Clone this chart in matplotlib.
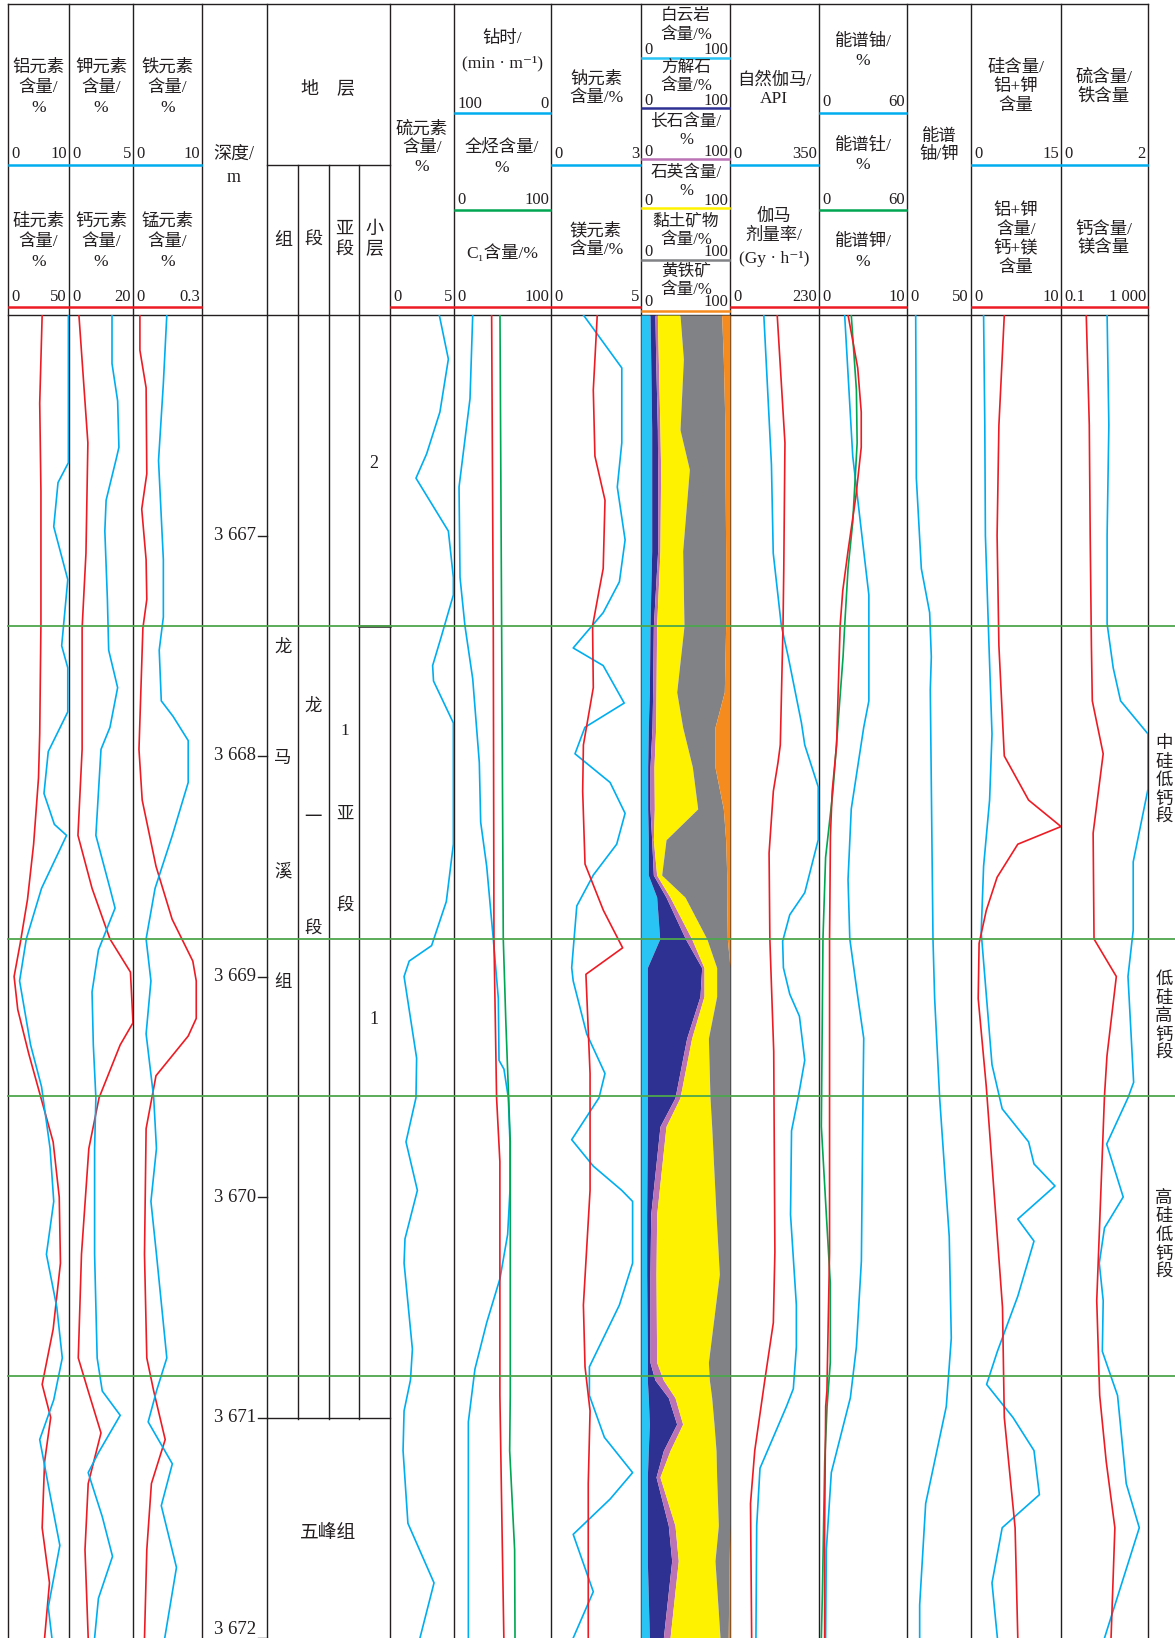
import numpy as np
import matplotlib
matplotlib.use('Agg')
import matplotlib.pyplot as plt

plt.rcParams['font.family'] = ['Liberation Serif', 'Noto Sans CJK SC', 'DejaVu Sans']

# ---------------- data (depth in m) ----------------
si_depth = [3666.0, 3666.4, 3666.8, 3667.4, 3667.9, 3668.1, 3668.4, 3668.65, 3668.85, 3669.0, 3669.15,
            3669.35, 3669.55, 3669.75, 3670.0, 3670.3, 3670.6, 3670.85, 3671.0, 3671.2, 3671.5, 3671.75, 3672.0]
si = [28, 26, 27, 27, 26, 25, 21, 16, 10, 5, 8, 17, 27, 37, 42, 43, 37, 28, 35, 30, 28, 34, 30]
al_depth = [3666.0, 3666.67, 3666.76, 3666.96, 3667.2, 3667.35, 3667.5, 3667.6, 3667.8, 3667.98, 3668.17,
            3668.31, 3668.36, 3668.6, 3668.83, 3669.02, 3669.31, 3669.5, 3669.78, 3670.02, 3670.26, 3670.5,
            3670.73, 3670.92, 3671.1, 3671.35, 3671.58, 3671.86, 3672.0]
al = [9.9, 9.9, 8.2, 7.5, 9.8, 9.3, 8.8, 9.8, 9.8, 6.6, 5.9, 7.6, 9.6, 5.5, 3.0, 1.9, 3.7, 5.5, 6.9, 7.5,
      6.3, 8.0, 8.9, 7.5, 5.2, 6.9, 8.5, 6.6, 7.2]

ca_depth = [3666.0, 3666.58, 3667.08, 3667.42, 3667.97, 3668.36, 3668.6, 3668.83, 3668.98, 3669.21, 3669.31,
            3669.55, 3669.78, 3670.26, 3670.73, 3670.88, 3671.07, 3671.3, 3671.6, 3672.0]
ca = [3.1, 5.9, 5.3, 4.1, 4.1, 2.8, 7.2, 12.8, 19.2, 20.0, 16.0, 9.4, 6.2, 3.9, 2.9, 6.0, 10.0, 6.0, 5.0, 6.0]
k_depth = [3666.0, 3666.22, 3666.39, 3666.6, 3666.65, 3666.84, 3666.98, 3667.29, 3667.52, 3667.69, 3667.87,
           3667.97, 3668.36, 3668.6, 3668.69, 3668.88, 3669.07, 3669.31, 3669.55, 3669.78, 3670.26, 3670.73,
           3670.88, 3670.99, 3671.16, 3671.25, 3671.45, 3671.63, 3671.82, 3672.0]
k = [3.36, 3.36, 3.8, 3.9, 3.7, 2.9, 2.8, 3.0, 3.1, 3.8, 3.2, 2.5, 2.1, 3.2, 3.6, 2.3, 1.8, 1.9, 2.1, 2.0,
     2.0, 2.2, 2.6, 4.0, 2.3, 1.5, 2.6, 3.4, 2.3, 2.0]

mn_depth = [3666.0, 3666.16, 3666.33, 3666.72, 3666.88, 3667.11, 3667.29, 3667.42, 3667.97, 3668.2, 3668.5,
            3668.74, 3668.93, 3669.02, 3669.19, 3669.27, 3669.45, 3669.69, 3670.26, 3670.73, 3670.88, 3671.1,
            3671.3, 3671.6, 3672.0]
mn = [0.030, 0.030, 0.057, 0.060, 0.038, 0.057, 0.060, 0.043, 0.026, 0.04, 0.10, 0.17, 0.26, 0.275, 0.275,
      0.24, 0.10, 0.057, 0.05, 0.06, 0.09, 0.14, 0.08, 0.06, 0.05]
fe_depth = [3666.0, 3666.31, 3666.66, 3667.11, 3667.37, 3667.52, 3667.75, 3667.82, 3667.93, 3668.12, 3668.36,
            3668.6, 3668.83, 3669.02, 3669.26, 3669.55, 3669.78, 3670.02, 3670.26, 3670.73, 3670.88, 3671.02,
            3671.21, 3671.4, 3671.68, 3672.0]
fe = [4.9, 4.4, 3.7, 4.4, 4.4, 3.8, 4.1, 5.8, 8.0, 8.0, 5.7, 3.2, 1.9, 2.6, 1.9, 3.0, 3.4, 2.6, 3.4, 4.9,
      3.4, 2.2, 5.7, 4.1, 6.3, 4.6]

s_depth = [3666.0, 3666.2, 3666.44, 3666.63, 3666.74, 3666.98, 3667.19, 3667.27, 3667.46, 3667.59, 3667.66,
           3667.85, 3668.40, 3668.66, 3668.86, 3668.93, 3669.0, 3669.37, 3669.55, 3669.75, 3669.97, 3670.19,
           3670.3, 3670.69, 3670.83, 3670.97, 3671.15, 3671.48, 3671.75, 3672.0]
s = [3.85, 4.56, 3.9, 2.86, 2.03, 4.56, 4.95, 4.95, 4.0, 3.33, 3.4, 4.95, 4.95, 4.4, 3.25, 1.5, 1.1, 2.08,
     2.03, 1.25, 2.14, 1.17, 1.1, 1.75, 1.6, 1.1, 1.02, 1.4, 3.44, 2.34]

rop_depth = [3666.0, 3666.38, 3666.78, 3667.19, 3667.41, 3667.65, 3668.03, 3668.30, 3668.5, 3668.83, 3669.1,
             3669.38, 3669.42, 3669.55, 3669.75, 3669.97, 3670.17, 3670.37, 3670.57, 3670.78, 3671.02, 3672.0]
rop = [80.7, 83.5, 94.8, 93.8, 88.7, 80.7, 73.9, 72.5, 66.3, 59.5, 54.3, 53.6, 48.5, 44.0, 42.3, 42.3, 44.7,
       52.6, 66.3, 78.4, 85.2, 85.2]
gas_depth = [3666.0, 3667.41, 3668.83, 3669.2, 3669.75, 3670.9, 3671.15, 3671.6, 3672.0]
gas = [47.4, 49.1, 50.8, 53.4, 58.0, 58.0, 57.4, 62.5, 62.9]
c1_depth = [3666.0, 3667.41, 3668.83, 3669.55, 3669.84, 3670.9, 3671.5, 3672.0]
c1 = [38.8, 40.5, 41.2, 43.9, 47.3, 47.3, 49.5, 51.4]

na_depth = [3666.0, 3666.24, 3666.58, 3666.78, 3667.02, 3667.21, 3667.35, 3667.51, 3667.59, 3667.76, 3667.87,
            3667.99, 3668.12, 3668.26, 3668.4, 3668.54, 3668.68, 3668.96, 3669.02, 3669.26, 3669.44, 3669.55,
            3669.74, 3669.86, 3669.97, 3670.02, 3670.3, 3670.49, 3670.77, 3670.9, 3671.09, 3671.25, 3671.37,
            3671.53, 3671.79, 3672.0]
na = [1.08, 2.36, 2.36, 2.21, 2.47, 2.28, 1.74, 0.74, 1.74, 2.44, 1.13, 0.80, 1.97, 2.47, 2.19, 1.41, 0.86,
      0.69, 0.74, 1.19, 1.8, 1.6, 0.69, 1.41, 2.36, 2.72, 2.72, 2.28, 1.28, 1.28, 1.78, 2.72, 1.97, 0.74,
      1.41, 0.74]
mg_depth = [3666.0, 3666.34, 3666.64, 3666.84, 3667.15, 3667.25, 3667.41, 3667.69, 3667.95, 3668.16, 3668.49,
            3668.7, 3668.87, 3668.99, 3669.44, 3669.97, 3670.49, 3670.77, 3670.97, 3671.3, 3672.0]
mg = [2.57, 2.35, 2.44, 3.0, 2.9, 2.67, 2.31, 2.35, 1.8, 1.76, 1.89, 2.91, 3.98, 1.94, 2.17, 2.17, 1.8,
      1.89, 2.17, 2.07, 2.07]

# mineral contents, %
min_depth = [3666.00, 3666.20, 3666.52, 3666.70, 3667.07, 3667.41, 3667.71, 3667.87, 3668.05, 3668.24,
             3668.38, 3668.54, 3668.64, 3668.83, 3668.96, 3669.09, 3669.28, 3669.55, 3669.68, 3670.08,
             3670.35, 3670.75, 3670.83, 3670.91, 3671.03, 3671.15, 3671.27, 3671.49, 3671.65, 3672.00]
dolomite = [10.1, 10.9, 12.0, 12.0, 12.0, 10.1, 9.4, 8.2, 7.5, 7.5, 8.2, 8.2, 17.6, 21.0, 7.1, 7.1, 7.1, 7.1,
            7.1, 6.4, 6.4, 7.1, 7.1, 8.2, 9.4, 8.2, 7.1, 7.1, 7.1, 9.4]
calcite = [5.6, 5.6, 6.4, 6.7, 6.7, 3.8, 3.7, 4.2, 2.6, 2.6, 3.8, 5.7, 10.5, 29.0, 61.1, 59.2, 44.2, 31.1,
           14.2, 4.5, 3.7, 3.0, 8.6, 22.5, 30.7, 16.9, 9.8, 23.6, 27.4, 15.7]
feldspar = [2.7, 3.0, 2.9, 3.4, 2.6, 3.7, 3.8, 4.1, 4.5, 4.9, 1.9, 3.7, 4.5, 7.0, 2.6, 4.5, 5.6, 5.6, 6.8,
            6.7, 6.8, 7.5, 9.4, 7.5, 6.7, 7.5, 4.4, 7.5, 7.4, 7.5]
quartz = [25.4, 28.1, 22.5, 32.2, 25.5, 30.7, 23.2, 30.3, 43.1, 48.7, 14.2, 5.6, 16.8, 17.0, 14.2, 14.2,
          18.8, 33.7, 51.3, 66.7, 71.1, 58.1, 51.7, 41.2, 35.2, 51.7, 63.7, 48.7, 41.2, 56.2]
clay = [46.8, 44.9, 50.6, 40.1, 48.3, 46.8, 53.5, 36.3, 25.4, 28.8, 67.0, 73.1, 46.9, 23.0, 15.0, 15.0,
        24.3, 22.5, 20.6, 15.7, 12.0, 24.3, 23.2, 20.6, 18.0, 15.7, 15.0, 13.1, 15.9, 9.2]
pyrite = [9.4, 7.5, 5.6, 5.6, 4.9, 4.9, 6.4, 16.9, 16.9, 7.5, 4.9, 3.7, 3.7, 3.0, 0, 0, 0, 0, 0, 0, 0, 0,
          0, 0, 0, 0, 0, 0, 1.0, 2.0]

gr_depth = [3666.0, 3666.68, 3667.08, 3667.41, 3667.55, 3667.85, 3667.95, 3668.14, 3668.38, 3668.62, 3668.72,
            3668.84, 3668.96, 3669.08, 3669.18, 3669.38, 3669.55, 3669.70, 3670.08, 3670.49, 3670.68, 3670.87,
            3670.95, 3671.23, 3671.49, 3672.0]
gr = [133, 163, 170, 202, 229, 281, 294, 347, 347, 294, 235, 207, 210, 235, 273, 294, 268, 242, 238, 261,
      261, 249, 222, 118, 105, 102]
dose_depth = [3666.0, 3666.58, 3667.15, 3667.41, 3667.95, 3668.03, 3668.16, 3668.44, 3668.83, 3669.34,
              3670.25, 3670.57, 3670.83, 3671.15, 3671.39, 3672.0]
dose = [122, 142, 139, 137, 130, 124, 112, 101, 103, 113, 116, 112, 90, 64, 53, 56]

u_depth = [3666.0, 3666.64, 3666.98, 3667.27, 3667.75, 3667.87, 3668.24, 3668.56, 3668.83, 3669.1, 3669.28,
           3669.55, 3670.29, 3670.68, 3670.91, 3671.25, 3671.6, 3672.0]
u = [17.5, 23, 28.9, 34, 34, 30.5, 22, 19.8, 21, 26.6, 30.5, 30, 28.9, 25.5, 21.4, 8.4, 5, 4.5]
th_depth = [3666.0, 3666.34, 3666.58, 3666.94, 3667.15, 3667.41, 3667.55, 3668.16, 3668.46, 3668.83, 3669.68,
            3670.08, 3670.39, 3670.75, 3670.95, 3671.2, 3671.8, 3672.0]
th = [22, 25.5, 26, 23, 19.8, 17.5, 16.4, 9.5, 4.5, 2.7, 1.6, 5, 7.7, 7.7, 5.5, 3.9, 2.3, 1.6]
ks_depth = [3666.0, 3666.24, 3666.44, 3666.6, 3666.82, 3667.07, 3667.25, 3667.41, 3667.95, 3668.16, 3668.36,
            3668.83, 3670.25, 3670.88, 3670.95, 3671.5, 3672.0]
ks = [3.3, 4.4, 4.8, 4.8, 4.2, 3.3, 2.7, 2.4, 2.0, 1.5, 1.3, 1.2, 1.2, 0.9, 0.76, 0.64, 0.64]

uk_depth = [3666.0, 3666.74, 3667.15, 3667.35, 3667.55, 3667.7, 3668.83, 3669.1, 3669.55, 3670.18, 3670.64,
            3670.95, 3671.39, 3671.85, 3672.0]
uk = [6.8, 7.3, 11.2, 17.7, 19.0, 18.2, 20.3, 21.6, 25.5, 33.0, 34.6, 30.7, 14.6, 9.9, 9.9]

sialk_depth = [3666.0, 3666.5, 3667.0, 3667.5, 3667.9, 3668.2, 3668.5, 3668.8, 3669.1, 3669.4, 3669.6,
               3669.75, 3669.85, 3669.95, 3670.1, 3670.2, 3670.45, 3670.7, 3670.85, 3671.0, 3671.15, 3671.35,
               3671.5, 3671.75, 3672.0]
sialk = [2.1, 2.3, 2.4, 3.0, 3.5, 3.1, 2.1, 1.7, 2.6, 3.5, 5.2, 9.6, 10.5, 14.0, 7.8, 10.5, 7.8, 4.4, 2.6,
         7.0, 10.5, 11.4, 5.2, 3.5, 4.4]
alk_depth = [3666.0, 3666.5, 3667.0, 3667.5, 3668.0, 3668.2, 3668.32, 3668.4, 3668.55, 3668.7, 3668.85,
             3669.1, 3669.5, 3670.0, 3670.5, 3671.0, 3671.5, 3672.0]
alk = [3.7, 3.1, 2.9, 3.1, 3.7, 6.4, 10.0, 5.2, 2.9, 1.7, 0.9, 0.8, 1.7, 2.6, 3.5, 3.7, 4.9, 5.2]

sfe_depth = [3666.0, 3666.5, 3667.0, 3667.4, 3667.6, 3667.75, 3667.9, 3668.15, 3668.48, 3668.79, 3669.0,
             3669.48, 3669.55, 3669.76, 3670.0, 3670.14, 3670.3, 3670.47, 3670.7, 3670.9, 3671.1, 3671.3,
             3671.5, 3671.75, 3672.0]
sfe = [1.06, 1.1, 1.06, 1.06, 1.2, 1.37, 2.0, 2.0, 1.66, 1.66, 1.54, 1.67, 1.54, 1.05, 1.43, 1.0, 0.88, 0.97,
       0.95, 1.3, 1.4, 1.5, 1.8, 1.4, 1.0]
camg_depth = [3666.0, 3666.5, 3667.0, 3667.5, 3667.75, 3667.99, 3668.35, 3668.83, 3669.0, 3669.36, 3669.54,
              3670.47, 3670.9, 3671.2, 3671.5, 3672.0]
camg = [1.45, 2.0, 2.2, 2.5, 2.75, 8.7, 3.0, 3.3, 35, 13, 10, 4.4, 6, 12, 30, 20]

zone_tops = [3667.41, 3668.83, 3669.54, 3670.81]
depth_ticks = [3667, 3668, 3669, 3670, 3671, 3672]

# ---------------- layout ----------------
W, H = 1175, 1638
Y0, Y1 = 315, 1638
D0, D1 = 3666.0, 3672.0
INK = '#231f20'
BLUE, RED, GREEN = '#00aeef', '#ed1c24', '#00a651'
ZONE = '#4da64d'

fig = plt.figure(figsize=(W / 100, H / 100), dpi=100)
base = fig.add_axes([0, 0, 1, 1])
base.set_xlim(0, W)
base.set_ylim(H, 0)
base.axis('off')


def track(x0, x1, lim, log=False):
    ax = fig.add_axes([x0 / W, 1 - Y1 / H, (x1 - x0) / W, (Y1 - Y0) / H])
    ax.set_ylim(D1, D0)
    if log:
        ax.set_xscale('log')
    ax.set_xlim(*lim)
    ax.axis('off')
    return ax


def curve(x0, x1, lim, dep, val, color, log=False):
    ax = track(x0, x1, lim, log)
    ax.plot(val, dep, color=color, lw=1.2)
    return ax


curve(8, 69, (0, 50), si_depth, si, RED)
curve(8, 69, (0, 10), al_depth, al, BLUE)
curve(69, 133, (0, 20), ca_depth, ca, RED)
curve(69, 133, (0, 5), k_depth, k, BLUE)
curve(133, 202, (0, 0.3), mn_depth, mn, RED)
curve(133, 202, (0, 10), fe_depth, fe, BLUE)
curve(390, 454, (0, 5), s_depth, s, BLUE)
curve(454, 551, (100, 0), rop_depth, rop, BLUE)
curve(454, 551, (0, 100), gas_depth, gas, GREEN)
curve(454, 551, (0, 100), c1_depth, c1, RED)
curve(551, 641, (0, 3), na_depth, na, BLUE)
curve(551, 641, (0, 5), mg_depth, mg, RED)

axm = track(641, 730, (0, 100))
colors = ['#29c4f4', '#2e3192', '#bb73b5', '#fff200', '#808285', '#f58a1f']
prev = np.zeros(len(min_depth))
for part, col in zip([dolomite, calcite, feldspar, quartz, clay, pyrite], colors):
    cur = prev + np.array(part)
    axm.fill_betweenx(min_depth, prev, cur, color=col, lw=0)
    prev = cur

curve(730, 819, (0, 350), gr_depth, gr, BLUE)
curve(730, 819, (0, 230), dose_depth, dose, RED)
curve(819, 907, (0, 60), u_depth, u, BLUE)
curve(819, 907, (0, 60), th_depth, th, GREEN)
curve(819, 907, (0, 10), ks_depth, ks, RED)
curve(907, 971, (0, 50), uk_depth, uk, BLUE)
curve(971, 1061, (0, 15), sialk_depth, sialk, BLUE)
curve(971, 1061, (0, 10), alk_depth, alk, RED)
curve(1061, 1148, (0, 2), sfe_depth, sfe, BLUE)
curve(1061, 1148, (0.1, 1000), camg_depth, camg, RED, log=True)

# frame in depth coordinates
frame = fig.add_axes([0, 1 - Y1 / H, 1, (Y1 - Y0) / H])
frame.set_xlim(0, W)
frame.set_ylim(D1, D0)
frame.axis('off')
for z in zone_tops:
    frame.plot([8, W], [z, z], color=ZONE, lw=1.3, zorder=5)
for d in depth_ticks:
    frame.plot([258, 267], [d, d], color=INK, lw=1.0)
    frame.text(256, d, '%d %03d' % (d // 1000, d % 1000), ha='right',
               va='center' if d < D1 else 'bottom', fontsize=13.5, color=INK)
frame.plot([359, 390], [3667.41, 3667.41], color=INK, lw=1.8)
frame.plot([267, 390], [3671.0, 3671.0], color=INK, lw=1.0)

# table lines
LW = 1.0
for x in [8, 69, 133, 202, 267, 390, 454, 551, 641, 730, 819, 907, 971, 1061, 1148]:
    base.plot([x, x], [4, H], color=INK, lw=LW)
for x in [298, 329, 359]:
    base.plot([x, x], [165, 1419], color=INK, lw=LW)
base.plot([8, 1148], [4, 4], color=INK, lw=LW)
base.plot([8, 1148], [315, 315], color=INK, lw=LW)
base.plot([267, 390], [165, 165], color=INK, lw=LW)


def txt(x, y, s, size=12.5, **kw):
    base.text(x, y, s, ha='center', va='center', fontsize=size, color=INK, **kw)


def lines(xc, ys, strs, size=12.5):
    for y, st in zip(ys, strs):
        txt(xc, y, st, size)


def scale(x0, x1, y, lo, hi, color=None, ly=None):
    base.text(x0 + 3, y, lo, ha='left', va='center', fontsize=12, color=INK)
    base.text(x1 - 2, y, hi, ha='right', va='center', fontsize=12, color=INK)
    if color is not None:
        base.plot([x0 + 1, x1 - 1], [ly, ly], color=color, lw=1.8)


# element tracks
for (x0, x1), top, bot, ts, bs in [((8, 69), '铝元素', '硅元素', ('0', '10'), ('0', '50')),
                                   ((69, 133), '钾元素', '钙元素', ('0', '5'), ('0', '20')),
                                   ((133, 202), '铁元素', '锰元素', ('0', '10'), ('0', '0.3'))]:
    xc = (x0 + x1) / 2
    lines(xc, [68, 88, 108], [top, '含量/', '%'])
    scale(x0, x1, 154, ts[0], ts[1], BLUE, 165)
    lines(xc, [222, 242, 262], [bot, '含量/', '%'])
    scale(x0, x1, 297, bs[0], bs[1], RED, 307)

lines(234, [154, 177], ['深度/', 'm'], 13)
txt(328, 89, '地    层', 13)
txt(283, 240, '组', 13)
txt(313, 240, '段', 13)
lines(344, [229, 250], ['亚', '段'], 13)
lines(374, [229, 250], ['小', '层'], 13)

lines(422, [130, 148, 167], ['硫元素', '含量/', '%'])
scale(390, 454, 297, '0', '5', RED, 307)

lines(502, [39, 63], ['钻时/', '(min · m⁻¹)'])
scale(454, 551, 104, '100', '0', BLUE, 113)
lines(502, [147, 168], ['全烃含量/', '%'])
scale(454, 551, 200, '0', '100', GREEN, 210)
txt(502, 253, 'C₁含量/%')
scale(454, 551, 297, '0', '100', RED, 307)

lines(596, [80, 98], ['钠元素', '含量/%'])
scale(551, 641, 154, '0', '3', BLUE, 165)
lines(596, [231, 250], ['镁元素', '含量/%'])
scale(551, 641, 297, '0', '5', RED, 307)

mineral_rows = [(['白云岩', '含量/%'], [16, 35], 50, 58, colors[0]),
                (['方解石', '含量/%'], [68, 86], 101, 108, colors[1]),
                (['长石含量/', '%'], [122, 140], 152, 159, colors[2]),
                (['石英含量/', '%'], [173, 191], 201, 208, colors[3]),
                (['黏土矿物', '含量/%'], [222, 240], 252, 260, colors[4]),
                (['黄铁矿', '含量/%'], [272, 290], 302, 311, colors[5])]
for strs, ys, sy, ly, col in mineral_rows:
    lines(686, ys, strs, 12)
    scale(641, 730, sy, '0', '100', col, ly)

lines(774, [80, 99], ['自然伽马/', 'API'])
scale(730, 819, 154, '0', '350', BLUE, 165)
lines(774, [217, 236, 259], ['伽马', '剂量率/', '(Gy · h⁻¹)'])
scale(730, 819, 297, '0', '230', RED, 307)

lines(863, [42, 61], ['能谱铀/', '%'])
scale(819, 907, 102, '0', '60', BLUE, 113)
lines(863, [145, 165], ['能谱钍/', '%'])
scale(819, 907, 200, '0', '60', GREEN, 210)
lines(863, [242, 262], ['能谱钾/', '%'])
scale(819, 907, 297, '0', '10', RED, 307)

lines(939, [137, 155], ['能谱', '铀/钾'])
scale(907, 971, 297, '0', '50')

lines(1016, [68, 87, 106], ['硅含量/', '铝+钾', '含量'])
scale(971, 1061, 154, '0', '15', BLUE, 165)
lines(1016, [211, 230, 249, 268], ['铝+钾', '含量/', '钙+镁', '含量'])
scale(971, 1061, 297, '0', '10', RED, 307)

lines(1104, [78, 97], ['硫含量/', '铁含量'])
scale(1061, 1148, 154, '0', '2', BLUE, 165)
lines(1104, [230, 248], ['钙含量/', '镁含量'])
scale(1061, 1148, 297, '0.1', '1 000', RED, 307)

# stratigraphy column text
for y, ch in zip([648, 759, 872, 983], '龙马溪组'):
    txt(283, y, ch, 12.5)
for y, ch in zip([707, 818, 930], '龙一段'):
    txt(313, y, ch, 12.5)
for y, ch in zip([731, 815, 907], '1亚段'):
    txt(345, y, ch, 12.5)
txt(374, 463, '2', 13)
txt(374, 1020, '1', 13)
txt(328, 1533, '五峰组', 13.5)

# zone labels on the right
for yc, word in [(781, '中硅低钙段'), (1017, '低硅高钙段'), (1236, '高硅低钙段')]:
    for i, ch in enumerate(word):
        txt(1164, yc + (i - 2) * 18.5, ch, 12.5)

fig.savefig('out.png', dpi=100)
